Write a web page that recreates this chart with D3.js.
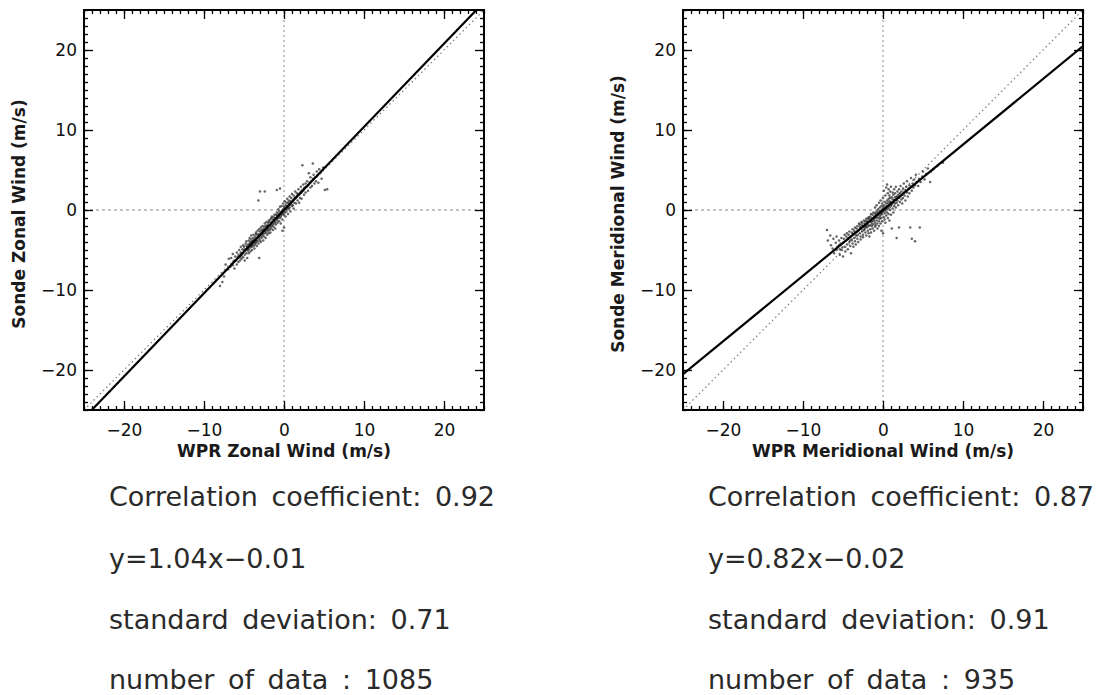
<!DOCTYPE html>
<html>
<head>
<meta charset="utf-8">
<script src="https://cdn.jsdelivr.net/npm/d3@7"></script>
<style>
  body { margin: 0; background: #fff; }
  svg { display: block; }
</style>
</head>
<body>
<svg id="chart" width="1101" height="695"></svg>
<script>
// ---- data (WPR wind on x, sonde wind on y, m/s) ----
const zonalPoints = [
  [-8.0,-9.5],[-7.7,-9.0],[-7.5,-8.3],[-7.3,-6.8],[-7.0,-7.4],[-6.9,-6.1],[-6.7,-7.1],[-6.6,-6.0],[-6.4,-5.5],[-6.4,-6.9],
  [-6.3,-6.4],[-6.2,-7.3],[-6.1,-5.8],[-6.0,-6.3],[-5.9,-5.3],[-5.9,-6.8],[-5.8,-6.0],[-5.7,-5.6],[-5.7,-6.5],[-5.6,-5.0],
  [-5.5,-5.9],[-5.5,-6.3],[-5.4,-5.3],[-5.4,-4.6],[-5.3,-5.7],[-5.3,-6.1],[-5.2,-4.9],[-5.2,-5.4],[-5.1,-4.4],[-5.1,-5.9],
  [-5.0,-5.1],[-5.0,-4.6],[-4.9,-5.6],[-4.9,-6.3],[-4.9,-4.9],[-4.8,-4.2],[-4.8,-5.0],[-4.7,-5.4],[-4.7,-4.5],[-4.7,-3.9],
  [-4.6,-4.8],[-4.6,-6.0],[-4.5,-4.3],[-4.5,-5.1],[-4.5,-4.6],[-4.4,-3.8],[-4.4,-5.4],[-4.4,-4.9],[-4.3,-4.2],[-4.3,-4.5],
  [-4.3,-3.5],[-4.2,-4.7],[-4.2,-4.0],[-4.2,-5.2],[-4.1,-4.4],[-4.1,-3.7],[-4.1,-3.2],[-4.0,-4.1],[-4.0,-4.6],[-4.0,-3.9],
  [-4.0,-5.0],[-3.9,-4.3],[-3.9,-3.5],[-3.9,-4.0],[-3.8,-3.8],[-3.8,-4.5],[-3.8,-3.1],[-3.7,-4.1],[-3.7,-3.6],[-3.7,-4.8],
  [-3.6,-3.9],[-3.6,-3.3],[-3.6,-4.3],[-3.5,-3.7],[-3.5,-3.0],[-3.5,-4.1],[-3.5,-2.8],[-3.4,-3.5],[-3.4,-4.5],[-3.4,-3.8],
  [-3.3,-3.2],[-3.3,-3.9],[-3.3,-2.6],[-3.2,-3.4],[-3.2,-3.0],[-3.2,-4.2],[-3.2,1.2],[-3.1,-3.6],[-3.1,-2.4],[-3.1,-6.0],
  [-3.0,-3.1],[-3.0,-3.8],[-3.0,-2.7],[-3.0,2.3],[-2.9,-3.3],[-2.9,-2.2],[-2.9,-4.0],[-2.8,-2.9],[-2.8,-3.5],[-2.8,-2.5],
  [-2.7,-2.7],[-2.7,-3.2],[-2.7,-2.0],[-2.6,-3.0],[-2.6,-2.4],[-2.6,-3.8],[-2.5,-2.6],[-2.5,-2.1],[-2.5,-3.3],[-2.4,-2.4],
  [-2.4,-2.9],[-2.4,-1.7],[-2.4,2.3],[-2.3,-2.6],[-2.3,-2.0],[-2.3,-3.5],[-2.2,-2.2],[-2.2,-2.8],[-2.2,-1.5],[-2.1,-2.4],
  [-2.1,-1.9],[-2.1,-3.1],[-2.0,-2.0],[-2.0,-2.6],[-2.0,-1.6],[-1.9,-2.3],[-1.9,-1.3],[-1.9,-2.9],[-1.8,-1.9],[-1.8,-2.5],
  [-1.8,-1.5],[-1.7,-2.1],[-1.7,-1.2],[-1.7,-2.8],[-1.6,-1.7],[-1.6,-2.3],[-1.6,-1.0],[-1.5,-1.5],[-1.5,-2.0],[-1.5,-0.8],
  [-1.4,-1.8],[-1.4,-1.2],[-1.4,-2.5],[-1.3,-1.4],[-1.3,-0.9],[-1.3,-2.1],[-1.2,-1.2],[-1.2,-1.7],[-1.2,-0.6],[-1.1,-1.0],
  [-1.1,-1.5],[-1.1,-2.3],[-1.0,-1.1],[-1.0,-0.6],[-1.0,-1.8],[-0.9,-0.9],[-0.9,-1.3],[-0.9,-0.3],[-0.9,2.5],[-0.8,-0.7],
  [-0.8,-1.6],[-0.8,-1.1],[-0.7,-0.5],[-0.7,-0.9],[-0.7,0.1],[-0.6,-0.7],[-0.6,-1.4],[-0.6,-0.2],[-0.5,-0.5],[-0.5,-1.0],
  [-0.5,0.4],[-0.5,2.7],[-0.4,-0.3],[-0.4,-0.8],[-0.4,-1.7],[-0.3,-0.2],[-0.3,-0.6],[-0.3,0.5],[-0.2,-0.1],[-0.2,-0.5],
  [-0.2,-1.2],[-0.2,-2.6],[-0.1,0.1],[-0.1,-0.3],[-0.1,0.8],[0.0,0.0],[0.0,-0.6],[0.0,0.4],[0.0,-2.2],[0.1,0.2],
  [0.1,-0.3],[0.1,1.1],[0.2,0.1],[0.2,0.6],[0.2,-0.8],[0.3,0.3],[0.3,0.9],[0.3,-0.2],[0.4,0.5],[0.4,0.1],
  [0.4,1.4],[0.5,0.4],[0.5,0.9],[0.5,-0.5],[0.6,0.6],[0.6,1.2],[0.6,0.2],[0.7,0.8],[0.7,0.3],[0.7,1.7],
  [0.8,0.7],[0.8,1.1],[0.8,-0.2],[0.9,0.9],[0.9,1.5],[1.0,1.0],[1.0,0.5],[1.0,2.0],[1.1,1.2],[1.1,0.6],
  [1.2,1.3],[1.2,1.8],[1.2,0.2],[1.3,1.4],[1.3,0.9],[1.4,1.6],[1.4,2.3],[1.5,1.5],[1.5,0.8],[1.6,1.7],
  [1.6,2.1],[1.7,1.8],[1.7,1.2],[1.8,2.0],[1.8,2.6],[1.9,1.9],[1.9,0.9],[2.0,2.1],[2.0,1.5],[2.1,2.3],
  [2.1,2.9],[2.2,2.2],[2.2,1.4],[2.3,2.5],[2.3,5.6],[2.4,2.4],[2.4,3.2],[2.5,2.7],[2.5,1.9],[2.6,2.8],
  [2.7,3.3],[2.7,2.2],[2.8,2.9],[2.9,3.6],[3.0,3.1],[3.0,2.4],[3.1,4.6],[3.2,3.4],[3.3,2.8],[3.3,4.1],
  [3.4,3.6],[3.5,3.0],[3.6,3.9],[3.6,5.8],[3.7,4.4],[3.8,3.3],[3.9,4.1],[4.0,3.6],[4.1,4.8],[4.2,4.3],
  [4.3,3.4],[4.4,5.1],[4.6,4.7],[4.7,3.9],[4.9,5.3],[5.1,2.5],[5.4,2.6]
];

const meridionalPoints = [
  [-7.0,-2.5],[-6.9,-3.8],[-6.6,-3.2],[-6.5,-4.4],[-6.3,-4.8],[-6.2,-3.6],[-6.1,-5.4],[-5.9,-4.1],[-5.8,-5.0],[-5.8,-3.3],
  [-5.7,-4.6],[-5.5,-4.4],[-5.5,-3.8],[-5.4,-5.6],[-5.4,-4.9],[-5.3,-4.2],[-5.2,-3.5],[-5.2,-5.0],[-5.1,-4.7],[-5.0,-5.8],
  [-4.9,-4.0],[-4.9,-3.6],[-4.8,-4.6],[-4.8,-3.1],[-4.7,-5.2],[-4.6,-3.8],[-4.6,-3.3],[-4.5,-4.3],[-4.5,-2.9],[-4.4,-4.9],
  [-4.4,-3.6],[-4.3,-3.5],[-4.3,-3.1],[-4.2,-4.0],[-4.2,-2.7],[-4.1,-4.5],[-4.1,-3.8],[-4.0,-5.4],[-4.0,-3.3],[-3.9,-2.8],
  [-3.9,-3.7],[-3.8,-2.4],[-3.8,-4.2],[-3.8,-3.0],[-3.7,-4.6],[-3.7,-3.0],[-3.6,-2.6],[-3.6,-3.5],[-3.5,-2.2],[-3.5,-3.9],
  [-3.5,-2.8],[-3.4,-4.3],[-3.4,-3.2],[-3.3,-2.8],[-3.3,-2.3],[-3.2,-3.2],[-3.2,-2.0],[-3.2,-3.6],[-3.1,-2.6],[-3.1,-4.0],
  [-3.0,-1.7],[-3.0,-2.5],[-2.9,-2.1],[-2.9,-2.9],[-2.9,-1.8],[-2.8,-3.3],[-2.8,-2.3],[-2.8,-3.7],[-2.7,-1.5],[-2.7,-2.3],
  [-2.6,-1.9],[-2.6,-2.7],[-2.6,-1.6],[-2.5,-3.1],[-2.5,-2.1],[-2.5,-3.4],[-2.4,-1.3],[-2.4,-2.5],[-2.3,-2.1],[-2.3,-1.7],
  [-2.3,-2.4],[-2.2,-1.4],[-2.2,-2.8],[-2.2,-1.9],[-2.1,-3.2],[-2.1,-1.1],[-2.1,-2.1],[-2.0,-1.8],[-2.0,-1.4],[-2.0,-2.2],
  [-1.9,-1.1],[-1.9,-2.6],[-1.9,-1.6],[-1.8,-2.9],[-1.8,-0.9],[-1.8,-2.0],[-1.7,-3.3],[-1.7,-1.5],[-1.7,-1.1],[-1.6,-1.9],
  [-1.6,-0.8],[-1.6,-2.4],[-1.5,-1.4],[-1.5,-2.8],[-1.5,-0.5],[-1.4,-1.7],[-1.4,-1.0],[-1.4,-2.0],[-1.3,-0.6],[-1.3,-1.4],
  [-1.3,-2.3],[-1.2,-1.1],[-1.2,-0.3],[-1.2,-1.8],[-1.1,-2.6],[-1.1,-0.8],[-1.1,-1.3],[-1.0,-0.4],[-1.0,-1.6],[-1.0,-2.1],
  [-1.0,0.3],[-0.9,-1.0],[-0.9,-0.6],[-0.9,-1.9],[-0.8,-0.2],[-0.8,-1.3],[-0.8,-0.8],[-0.8,0.6],[-0.7,-1.7],[-0.7,-0.4],
  [-0.7,-2.3],[-0.6,-1.0],[-0.6,0.1],[-0.6,-0.6],[-0.5,-1.4],[-0.5,-0.2],[-0.5,0.9],[-0.5,-2.0],[-0.4,-0.8],[-0.4,0.3],
  [-0.4,-0.4],[-0.4,-1.1],[-0.3,1.2],[-0.3,-0.1],[-0.3,-1.7],[-0.3,-0.6],[-0.2,0.5],[-0.2,-0.3],[-0.2,-2.6],[-0.2,-1.0],
  [-0.1,0.1],[-0.1,0.8],[-0.1,-0.5],[-0.1,-1.4],[0.0,1.5],[0.0,-0.2],[0.0,0.3],[0.0,-2.9],[0.1,-0.9],[0.1,0.6],
  [0.1,0.0],[0.1,2.4],[0.2,-0.4],[0.2,1.0],[0.2,0.2],[0.2,-1.2],[0.3,1.8],[0.3,0.4],[0.3,-0.1],[0.3,-1.6],
  [0.4,0.8],[0.4,0.1],[0.4,2.8],[0.4,-0.7],[0.5,1.2],[0.5,0.5],[0.5,3.2],[0.5,-0.3],[0.6,0.9],[0.6,-1.0],
  [0.6,2.1],[0.6,0.2],[0.7,1.4],[0.7,0.6],[0.7,-0.5],[0.7,2.6],[0.8,1.1],[0.8,0.3],[0.8,1.8],[0.8,-1.3],
  [0.9,0.8],[0.9,2.3],[0.9,0.0],[0.9,1.5],[1.0,1.0],[1.0,-0.6],[1.0,2.9],[1.0,0.5],[1.1,1.6],[1.1,-2.3],
  [1.1,0.7],[1.2,1.3],[1.2,2.2],[1.2,0.2],[1.3,0.9],[1.3,1.9],[1.3,-0.3],[1.4,1.2],[1.4,2.6],[1.4,0.5],
  [1.5,1.6],[1.5,0.8],[1.5,2.1],[1.6,1.3],[1.6,0.3],[1.6,2.9],[1.7,1.7],[1.7,-3.5],[1.7,0.9],[1.8,2.3],
  [1.8,1.2],[1.9,0.6],[1.9,1.9],[2.0,1.5],[2.0,2.6],[2.0,-2.2],[2.1,1.0],[2.1,2.1],[2.2,1.7],[2.2,3.0],
  [2.3,1.3],[2.3,2.3],[2.4,0.8],[2.4,1.9],[2.5,2.7],[2.5,1.5],[2.6,2.2],[2.6,3.3],[2.7,1.8],[2.8,2.5],
  [2.8,1.2],[2.9,2.9],[3.0,2.2],[3.0,3.6],[3.1,1.7],[3.2,2.7],[3.3,3.1],[3.3,2.1],[3.4,-2.2],[3.5,2.9],
  [3.5,4.0],[3.6,2.4],[3.6,-3.6],[3.7,3.3],[3.8,2.8],[3.9,3.8],[4.0,3.1],[4.0,-3.9],[4.1,4.4],[4.2,3.5],
  [4.4,3.0],[4.5,3.9],[4.6,-2.2],[4.7,3.5],[4.9,4.2],[5.0,4.8],[5.2,3.8],[5.4,4.5],[5.6,5.2],[5.9,3.5],
  [6.0,4.8],[6.3,5.1],[6.8,5.5],[7.5,5.9]
];

const fitSlopes = [1.04, 0.82];
const fitIntercepts = [-0.01, -0.02];
const xTitles = ['WPR Zonal Wind (m/s)', 'WPR Meridional Wind (m/s)'];
const yTitles = ['Sonde Zonal Wind (m/s)', 'Sonde Meridional Wind (m/s)'];
const statLines = [
  ['Correlation coefficient: 0.92', 'y=1.04x\u22120.01', 'standard deviation: 0.71', 'number of data : 1085'],
  ['Correlation coefficient: 0.87', 'y=0.82x\u22120.02', 'standard deviation: 0.91', 'number of data : 935']
];
const axisRange = [-25, 25];
const majorTicks = [-20, -10, 0, 10, 20];
const MINOR_STEP = 1;

// ---- layout ----
const SIZE = 400, TOP = 10;
const panelLeft = [84, 683];
const statBaselines = [506, 568, 629, 689];
const FONT = '"DejaVu Sans", sans-serif';

const svg = d3.select('#chart');
const panels = [zonalPoints, meridionalPoints];

panels.forEach((points, i) => {
  const g = svg.append('g').attr('transform', `translate(${panelLeft[i]},${TOP})`);
  const x = d3.scaleLinear().domain(axisRange).range([0, SIZE]);
  const y = d3.scaleLinear().domain(axisRange).range([SIZE, 0]);

  g.append('defs').append('clipPath').attr('id', 'clip' + i)
    .append('rect').attr('width', SIZE).attr('height', SIZE);
  const plot = g.append('g').attr('clip-path', `url(#clip${i})`);

  // zero lines
  plot.append('line').attr('x1', x(0)).attr('x2', x(0)).attr('y1', 0).attr('y2', SIZE)
    .attr('stroke', '#888').attr('stroke-width', 1).attr('stroke-dasharray', '2,3');
  plot.append('line').attr('x1', 0).attr('x2', SIZE).attr('y1', y(0)).attr('y2', y(0))
    .attr('stroke', '#888').attr('stroke-width', 1).attr('stroke-dasharray', '3,3');

  // 1:1 reference
  const line = d3.line().x(d => x(d[0])).y(d => y(d[1]));
  plot.append('path').attr('d', line(axisRange.map(v => [v, v])))
    .attr('fill', 'none').attr('stroke', '#777').attr('stroke-width', 1.2).attr('stroke-dasharray', '1.5,3');

  // scatter
  plot.append('g').selectAll('circle').data(points).enter().append('circle')
    .attr('cx', d => x(d[0])).attr('cy', d => y(d[1])).attr('r', 1.25)
    .attr('fill', '#222').attr('opacity', 0.7);

  // regression fit
  plot.append('path')
    .attr('d', line(axisRange.map(v => [v, fitSlopes[i] * v + fitIntercepts[i]])))
    .attr('fill', 'none').attr('stroke', '#000').attr('stroke-width', 2.2);

  // axes: inward ticks on all four sides
  const minor = d3.range(axisRange[0], axisRange[1] + MINOR_STEP, MINOR_STEP);
  const style = sel => {
    sel.select('.domain').remove();
    sel.selectAll('line').attr('stroke', '#000').attr('stroke-width', 1.3);
    sel.selectAll('text').attr('font-family', FONT).attr('font-size', '17px').attr('fill', '#111');
  };
  g.append('g').attr('transform', `translate(0,${SIZE})`)
    .call(d3.axisBottom(x).tickValues(minor).tickSize(-4).tickFormat('')).call(style);
  g.append('g').attr('transform', `translate(0,${SIZE})`)
    .call(d3.axisBottom(x).tickValues(majorTicks).tickSize(-9).tickPadding(14).tickFormat(d3.format('d'))).call(style);
  g.append('g')
    .call(d3.axisTop(x).tickValues(minor).tickSize(-4).tickFormat('')).call(style);
  g.append('g')
    .call(d3.axisTop(x).tickValues(majorTicks).tickSize(-9).tickFormat('')).call(style);
  g.append('g')
    .call(d3.axisLeft(y).tickValues(minor).tickSize(-4).tickFormat('')).call(style);
  g.append('g')
    .call(d3.axisLeft(y).tickValues(majorTicks).tickSize(-9).tickPadding(7).tickFormat(d3.format('d'))).call(style);
  g.append('g').attr('transform', `translate(${SIZE},0)`)
    .call(d3.axisRight(y).tickValues(minor).tickSize(-4).tickFormat('')).call(style);
  g.append('g').attr('transform', `translate(${SIZE},0)`)
    .call(d3.axisRight(y).tickValues(majorTicks).tickSize(-9).tickFormat('')).call(style);

  // frame
  g.append('rect').attr('width', SIZE).attr('height', SIZE)
    .attr('fill', 'none').attr('stroke', '#000').attr('stroke-width', 2);

  // axis titles
  g.append('text').attr('x', SIZE / 2).attr('y', SIZE + 47).attr('text-anchor', 'middle')
    .attr('font-family', FONT).attr('font-weight', 'bold').attr('font-size', '17px').attr('fill', '#1a1a1a')
    .text(xTitles[i]);
  g.append('text').attr('transform', `translate(-59,${SIZE / 2 + 4}) rotate(-90)`).attr('text-anchor', 'middle')
    .attr('font-family', FONT).attr('font-weight', 'bold').attr('font-size', '17px').attr('fill', '#1a1a1a')
    .text(yTitles[i]);

  // statistics
  statLines[i].forEach((t, k) => {
    svg.append('text').attr('x', panelLeft[i] + 25).attr('y', statBaselines[k])
      .attr('font-family', FONT).attr('font-size', '27px').attr('fill', '#2a2a2a')
      .attr('word-spacing', 5)
      .text(t);
  });
});
</script>
</body>
</html>
